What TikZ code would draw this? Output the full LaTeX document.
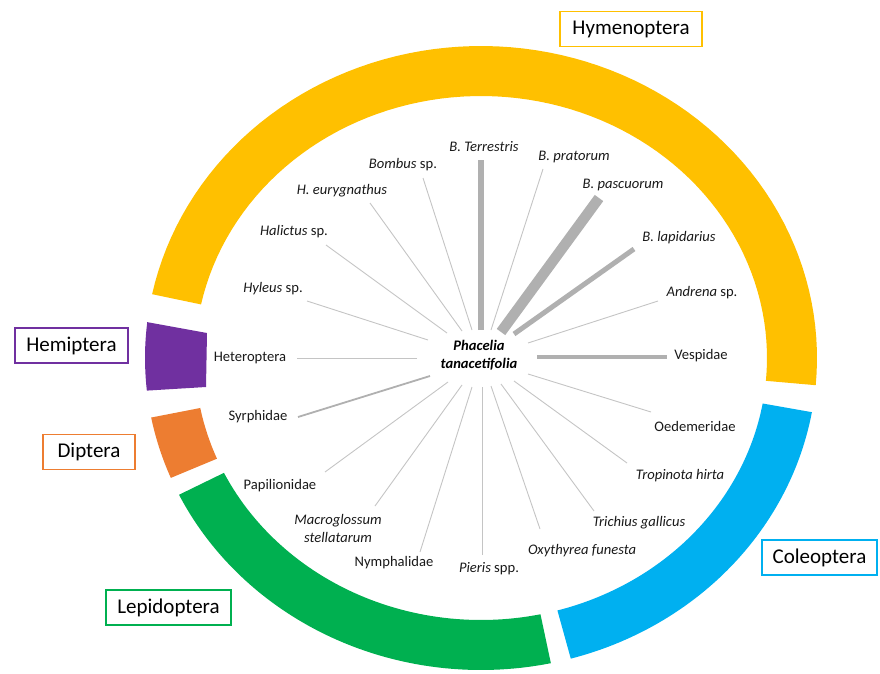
\documentclass[tikz,border=0pt]{standalone}
\usepackage{fontspec}
\setmainfont{Carlito}
\definecolor{hymc}{HTML}{FFC000}
\definecolor{hemc}{HTML}{7030A0}
\definecolor{dipc}{HTML}{ED7D31}
\definecolor{lepc}{HTML}{00B050}
\definecolor{colc}{HTML}{00B0F0}
\definecolor{thinc}{HTML}{C4C4C4}
\definecolor{thickc}{HTML}{B0B0B0}
\begin{document}
\begin{tikzpicture}[x=1pt,y=-1pt,
  lab/.style={font=\fontsize{14.6}{16}\selectfont, inner sep=0pt, text=black!90},
  ordbox/.style={draw=#1, line width=1.8pt, font=\fontsize{21}{24}\selectfont, minimum height=35pt, inner sep=0pt, text=black},
  spoke/.style={draw=thinc, line width=0.9pt},
  fatspoke/.style={draw=thickc, line width=#1},
]
\useasboundingbox (0,0) rectangle (880,674);
% ---- ring segments ----
\fill[hymc] plot[domain=-5:168.2,samples=80] ({481+336*cos(\x)},{358-312*sin(\x)})
  -- plot[domain=168.2:-5,samples=80] ({481+286*cos(\x)},{358-262*sin(\x)}) -- cycle;
\fill[hemc] plot[domain=173.4:186,samples=12] ({481+336*cos(\x)},{358-312*sin(\x)})
  -- (206,387) -- (207,333) -- cycle;
\fill[dipc] plot[domain=191:202.6,samples=12] ({481+336*cos(\x)},{358-312*sin(\x)})
  -- plot[domain=202.6:191,samples=12] ({481+286*cos(\x)},{358-262*sin(\x)}) -- cycle;
\fill[lepc] plot[domain=206:282,samples=60] ({481+336*cos(\x)},{358-312*sin(\x)})
  -- plot[domain=282:206,samples=60] ({481+286*cos(\x)},{358-262*sin(\x)}) -- cycle;
\fill[colc] plot[domain=285.5:350,samples=60] ({481+336*cos(\x)},{358-312*sin(\x)})
  -- plot[domain=350:285.5,samples=60] ({481+286*cos(\x)},{358-262*sin(\x)}) -- cycle;
% ---- order boxes ----
\node[ordbox=hymc, minimum width=142pt] (hym) at (631,29) {Hymenoptera};
\node[ordbox=hemc, minimum width=113pt] (hem) at (71.5,345.5) {Hemiptera};
\node[ordbox=dipc, minimum width=92pt] (dip) at (89,452) {Diptera};
\node[ordbox=lepc, minimum width=125pt] (lep) at (168.5,607.5) {Lepidoptera};
\node[ordbox=colc, minimum width=115pt] (col) at (819.5,557.5) {Coleoptera};
% ---- centre ----
\node[font=\fontsize{14.6}{18}\selectfont\bfseries\itshape, align=center, inner sep=0pt] (plant) at (479,355) {Phacelia\\tanacetifolia};
% ---- labels ----
\node[lab] (bterr) at (484,147) {\textit{B. Terrestris}};
\node[lab] (bprat) at (574,157) {\textit{B. pratorum}};
\node[lab] (bpasc) at (623,185) {\textit{B. pascuorum}};
\node[lab] (blapi) at (679,238) {\textit{B. lapidarius}};
\node[lab] (andr) at (702,293) {\textit{Andrena} sp.};
\node[lab] (vesp) at (701,356) {Vespidae};
\node[lab] (oede) at (695,426) {Oedemeridae};
\node[lab] (trop) at (680,476) {\textit{Tropinota hirta}};
\node[lab] (tric) at (639,523) {\textit{Trichius gallicus}};
\node[lab] (oxyt) at (582,551) {\textit{Oxythyrea funesta}};
\node[lab] (pier) at (489,569) {\textit{Pieris} spp.};
\node[lab] (nymp) at (394,563) {Nymphalidae};
\node[lab, align=center, font=\fontsize{14.6}{18}\selectfont\itshape] (macr) at (338,528) {Macroglossum\\stellatarum};
\node[lab] (papi) at (280,486) {Papilionidae};
\node[lab] (syrp) at (258,417) {Syrphidae};
\node[lab] (hete) at (250,358) {Heteroptera};
\node[lab] (hyle) at (273,289) {\textit{Hyleus} sp.};
\node[lab] (hali) at (294,232) {\textit{Halictus} sp.};
\node[lab] (heur) at (342,191) {\textit{H. eurygnathus}};
\node[lab] (bomb) at (403,165) {\textit{Bombus} sp.};
% ---- spoke ends (inner: i, outer: o) ----
\coordinate (bterr-i) at (481,330); \coordinate (bterr-o) at (481,160);
\coordinate (bprat-i) at (491,330); \coordinate (bprat-o) at (543,169);
\coordinate (bpasc-i) at (501,332); \coordinate (bpasc-o) at (599,198);
\coordinate (blapi-i) at (514,334); \coordinate (blapi-o) at (634,249);
\coordinate (andr-i) at (528,343); \coordinate (andr-o) at (658,301);
\coordinate (vesp-i) at (537,357); \coordinate (vesp-o) at (667,357);
\coordinate (oede-i) at (528,374); \coordinate (oede-o) at (651,412);
\coordinate (trop-i) at (514,381); \coordinate (trop-o) at (627,463);
\coordinate (tric-i) at (501,384); \coordinate (tric-o) at (594,511);
\coordinate (oxyt-i) at (491,386); \coordinate (oxyt-o) at (540,529);
\coordinate (pier-i) at (482,387); \coordinate (pier-o) at (482,555);
\coordinate (nymp-i) at (472,387); \coordinate (nymp-o) at (420,552);
\coordinate (macr-i) at (462,385); \coordinate (macr-o) at (375,506);
\coordinate (papi-i) at (448,382); \coordinate (papi-o) at (325,472);
\coordinate (syrp-i) at (430,376); \coordinate (syrp-o) at (298,417);
\coordinate (hete-i) at (417,358); \coordinate (hete-o) at (297,358);
\coordinate (hyle-i) at (428,340); \coordinate (hyle-o) at (307,301);
\coordinate (hali-i) at (447,333); \coordinate (hali-o) at (326,245);
\coordinate (heur-i) at (462,331); \coordinate (heur-o) at (370,203);
\coordinate (bomb-i) at (472,330); \coordinate (bomb-o) at (423,178);
% ---- spokes ----
\foreach \s in {bprat,andr,oede,trop,tric,oxyt,pier,nymp,macr,papi,hete,hyle,hali,heur,bomb}
  \draw[spoke] (\s-i) -- (\s-o);
\draw[fatspoke=5.5pt] (bterr-i) -- (bterr-o);
\draw[fatspoke=10.5pt] (bpasc-i) -- (bpasc-o);
\draw[fatspoke=5pt] (blapi-i) -- (blapi-o);
\draw[fatspoke=4.5pt] (vesp-i) -- (vesp-o);
\draw[fatspoke=1.8pt] (syrp-i) -- (syrp-o);
\end{tikzpicture}
\end{document}
